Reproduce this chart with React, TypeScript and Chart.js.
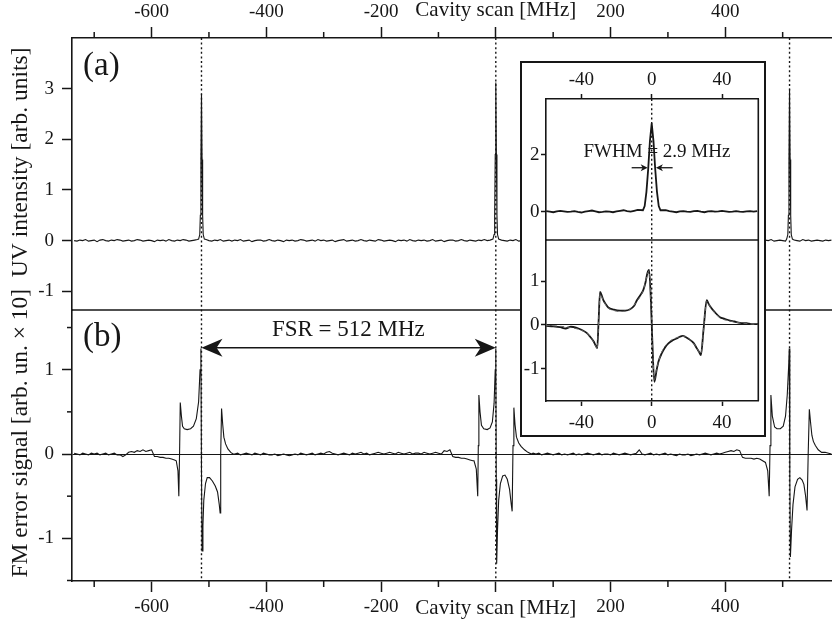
import React, { useEffect, useRef } from 'react';
import { Chart, registerables } from 'chart.js';

Chart.register(...registerables);

const FONT = "'Liberation Serif', 'Times New Roman', serif";
const INK = '#161616';

// ---------- main x axis (cavity scan, MHz) ----------
const X_MIN = -738.7;
const X_MAX = 586;
const X_MAJOR = [-600, -400, -200, 0, 200, 400];
const X_MINOR = [-700, -500, -300, -100, 100, 300, 500];
const X_TITLE = 'Cavity scan [MHz]';
const RESONANCES = [-513, 0, 512];

// ---------- panel (a): UV intensity ----------
const UV_MIN = -1.37;
const UV_MAX = 4.0;
const UV_TICKS = [-1, 0, 1, 2, 3];

// ---------- panel (b): FM error signal ----------
const FM_MIN = -1.506;
const FM_MAX = 1.708;
const FM_TICKS = [-1, 0, 1];
const FM_MINOR = [-1.5, -0.5, 0.5, 1.5];

// sampled scan grid for the baselines (null = see resonance detail points)
const SCAN_START = -735;
const SCAN_STEP = 5;

const UV_BASE: (number | null)[] = [
  0.00, -0.01, 0.01, 0.00, 0.02, -0.01, 0.00, 0.01, -0.02, 0.01, 0.02, 0.00, -0.01, 0.01, 0.00, 0.02, 0.01, -0.01, 0.00, 0.01,
  -0.01, 0.00, 0.02, 0.01, -0.01, 0.00, 0.01, 0.00, -0.02, 0.01, 0.00, 0.01, -0.01, 0.02, 0.00, -0.01, 0.01, 0.00, 0.02, 0.01,
  -0.01, 0.00, 0.01, 0.02, null, null, 0.02, 0.00, -0.01, 0.01, 0.00, 0.02, -0.01, 0.00, 0.01, -0.01, 0.01, 0.00, 0.02, -0.01,
  0.00, 0.01, -0.02, 0.00, 0.01, 0.01, -0.01, 0.00, 0.02, 0.00, -0.01, 0.01, 0.00, -0.02, 0.01, 0.00, 0.01, -0.01, 0.00, 0.02,
  0.01, -0.01, 0.00, 0.01, -0.01, 0.02, 0.00, 0.01, -0.01, 0.00, 0.01, -0.02, 0.00, 0.01, 0.02, -0.01, 0.00, 0.01, -0.01, 0.00,
  0.02, 0.00, -0.01, 0.01, 0.00, -0.01, 0.02, 0.01, -0.01, 0.00, 0.01, 0.00, -0.02, 0.01, 0.00, 0.01, -0.01, 0.02, 0.00, -0.01,
  0.01, 0.00, 0.01, -0.01, 0.00, 0.02, -0.01, 0.00, 0.01, -0.02, 0.00, 0.01, 0.01, -0.01, 0.00, 0.02, 0.00, -0.01, 0.01, 0.00,
  -0.01, 0.01, 0.00, 0.02, 0.00, 0.01, null, null, null, 0.01, 0.00, -0.01, 0.01, 0.00, 0.02, -0.01, 0.00, 0.01, -0.01, 0.00,
  0.01, 0.02, -0.01, 0.00, 0.01, -0.01, 0.00, 0.01, 0.00, -0.02, 0.01, 0.00, 0.02, -0.01, 0.00, 0.01, 0.00, -0.01, 0.01, 0.02,
  0.00, -0.01, 0.01, 0.00, -0.01, 0.02, 0.00, 0.01, -0.01, 0.00, 0.01, -0.02, 0.00, 0.01, 0.00, 0.02, -0.01, 0.00, 0.01, -0.01,
  0.00, 0.01, 0.02, -0.01, 0.00, 0.01, -0.01, 0.00, 0.01, 0.00, -0.02, 0.01, 0.00, 0.01, -0.01, 0.02, 0.00, -0.01, 0.01, 0.00,
  0.01, -0.01, 0.00, 0.02, 0.00, -0.01, 0.01, 0.00, 0.01, -0.02, 0.00, 0.01, -0.01, 0.00, 0.02, 0.01, -0.01, 0.00, 0.01, 0.00,
  -0.01, 0.01, 0.00, 0.02, -0.01, 0.00, 0.01, 0.00, -0.01, null, null, 0.01, 0.00, -0.01, 0.02, 0.00, 0.01, -0.01, 0.00, 0.01,
  0.00, -0.01, 0.01, 0.00, 0.01,
];

const UV_PEAK_LEFT: [number, number][] = [
  [-518, 0.03], [-516, 0.12], [-515, 0.5], [-514, 1.6], [-513, 2.9], [-512, 1.6], [-511, 0.5], [-510, 0.12], [-508, 0.03],
];
const UV_PEAK_CENTER: [number, number][] = [
  [-5, 0.03], [-3, 0.12], [-2, 0.5], [-1, 1.7], [0, 3.12], [1, 1.7], [2, 0.5], [3, 0.12], [5, 0.03],
];
const UV_PEAK_RIGHT: [number, number][] = [
  [507, 0.03], [509, 0.12], [510, 0.5], [511, 1.6], [512, 3.0], [513, 1.6], [514, 0.5], [515, 0.12], [517, 0.03],
];

const FM_BASE: (number | null)[] = [
  0.01, 0.00, -0.01, 0.01, 0.00, -0.01, 0.01, 0.00, 0.01, -0.01, 0.00, 0.01, -0.01, 0.00, 0.01, -0.01, -0.01, -0.03, -0.01,
  0.02, 0.03, 0.02, 0.04, 0.03, 0.05, 0.03, 0.04, 0.05,
  -0.03, -0.03, -0.04, -0.04, -0.05, -0.05, -0.06, -0.07,
  null, null, null, null, null, null, null, null, null, null, null, null, null, null, null, null, null, null, null, null,
  0.00, 0.01, -0.01, 0.00, 0.01, 0.00, -0.01, 0.01, 0.00, -0.01,
  0.01, 0.00, -0.01, -0.01, 0.00, -0.02, -0.01, 0.00, -0.01, -0.02,
  -0.01, 0.00, -0.01, 0.01, 0.00, -0.01, 0.00, 0.01, -0.01, 0.00,
  0.01, 0.00, 0.02, 0.03, 0.01, 0.00, -0.01, 0.00, 0.01, 0.00,
  -0.01, 0.01, 0.00, 0.01, 0.02, 0.00, 0.01, -0.01, 0.00, 0.01,
  0.02, 0.01, 0.00, 0.01, 0.02, 0.01, 0.00, 0.02, 0.01, 0.00,
  0.01, 0.02, 0.00, 0.01, 0.01, 0.00, 0.02, 0.01, 0.00, 0.01,
  0.02, 0.01, 0.00,
  0.04, 0.03, 0.05, -0.03, -0.04, -0.04, -0.05, -0.05, -0.06, -0.07, -0.08,
  null, null, null, null, null, null, null, null, null, null, null, null, null, null, null, null, null, null, null, null,
  0.01, 0.00, 0.01, -0.01, 0.00, 0.01, 0.00, -0.01, 0.00, 0.01,
  -0.01, 0.00, -0.01, 0.00, 0.01, -0.01, 0.00, -0.01, 0.00, 0.01,
  0.00, -0.01, 0.00, 0.01, -0.01, 0.00, 0.00, -0.01, 0.01, 0.00,
  -0.01, 0.00, 0.01, 0.00, -0.01, 0.00, 0.01, 0.05, 0.00, -0.01,
  0.00, 0.01, -0.01, 0.00, -0.01, 0.00, 0.01, -0.01, 0.00, -0.01,
  -0.02, 0.00, -0.01, -0.01, 0.00, -0.02, -0.01, 0.00, -0.01, 0.00,
  0.01, 0.00, -0.01, 0.00, 0.01, 0.00, 0.01, 0.02,
  0.03, 0.04, 0.03, 0.05, 0.04, -0.04, -0.05, -0.05, -0.05, -0.06, -0.05, -0.06, -0.08,
  null, null, null, null, null, null, null, null, null, null, null, null, null, null, null, null, null, null, null, null, null, null,
  0.01, 0.00,
];

const FM_RES_LEFT: [number, number][] = [
  [-557, -0.08], [-554, -0.2], [-552.5, -0.5], [-551, 0.1], [-550, 0.61], [-548, 0.45], [-546, 0.33], [-543, 0.30],
  [-538, 0.29], [-532, 0.30], [-527, 0.33], [-522, 0.42], [-518, 0.62], [-515.5, 1.0], [-514, 1.25], [-513, -0.2],
  [-512, -1.15], [-510.5, -0.85], [-509, -0.55], [-506, -0.35], [-503, -0.28], [-499, -0.28], [-494, -0.32],
  [-489, -0.38], [-485, -0.45], [-482, -0.6], [-480.5, -0.7], [-479.5, 0.0], [-478, 0.54], [-476, 0.35], [-474, 0.2],
  [-471, 0.12], [-467, 0.06], [-462, 0.02], [-458, 0.0],
];
const FM_RES_CENTER: [number, number][] = [
  [-38, -0.08], [-34, -0.18], [-31.5, -0.5], [-30.5, 0.1], [-29.5, 0.70], [-27.5, 0.5], [-25, 0.34], [-21, 0.30],
  [-15, 0.29], [-10, 0.31], [-6, 0.38], [-3, 0.6], [-1, 1.0], [0, 1.25], [0.8, -0.3], [1.5, -1.30], [3, -0.9],
  [5, -0.55], [8, -0.35], [12, -0.26], [16, -0.25], [20, -0.3], [24, -0.42], [27, -0.6], [28.5, -0.68], [30, 0.1],
  [31.5, 0.55], [33.5, 0.35], [36, 0.2], [40, 0.13], [44, 0.09], [50, 0.05], [56, 0.02], [62, 0.0],
];
const FM_RES_RIGHT: [number, number][] = [
  [470, -0.1], [474, -0.2], [476.5, -0.5], [478, 0.1], [479.5, 0.70], [482, 0.45], [486, 0.32], [490, 0.30],
  [496, 0.30], [501, 0.33], [505, 0.45], [508, 0.7], [510.5, 1.05], [511.5, 1.25], [512.5, -0.3], [513.5, -1.22],
  [515.5, -0.9], [518, -0.6], [521.5, -0.39], [526, -0.3], [530, -0.28], [534, -0.31], [537, -0.36], [540, -0.5],
  [542.5, -0.67], [544.5, 0.0], [546.5, 0.53], [549, 0.35], [551, 0.22], [553.5, 0.15], [557, 0.1], [562, 0.05],
  [568, 0.02], [574, 0.02],
];

// annotations
const FSR_FROM = -513;
const FSR_TO = 0;
const FSR_Y = 1.26;
const FSR_LABEL = 'FSR = 512 MHz';
const FSR_LABEL_X = -257;
const FSR_LABEL_Y = 1.49;
const Y_TITLE = 'FM error signal [arb. un. \u00d7 10]  UV intensity [arb. units]';

// ---------- inset ----------
const INSET_X_MIN = -60.14;
const INSET_X_MAX = 60.65;
const INSET_X_TICKS = [-40, 0, 40];
const INSET_PEAK_MIN = -1.0;
const INSET_PEAK_MAX = 3.975;
const INSET_PEAK_TICKS = [0, 2];
const INSET_ERR_MIN = -1.741;
const INSET_ERR_MAX = 1.947;
const INSET_ERR_TICKS = [-1, 0, 1];

const INSET_SCAN_START = -60;
const INSET_SCAN_STEP = 2;
const INSET_PEAK_BASE: (number | null)[] = [
  0.02, 0.00, -0.02, 0.01, 0.03, 0.01, -0.01, 0.00, 0.02, -0.01,
  -0.03, 0.00, 0.02, 0.04, 0.01, -0.02, -0.01, 0.01, 0.00, -0.02,
  0.01, 0.03, 0.05, 0.02, 0.00, 0.03, 0.06, null, null, null,
  null, null, null, null, 0.05, 0.02, 0.00, -0.02, 0.01, 0.02,
  0.00, -0.01, 0.02, 0.03, 0.00, -0.02, 0.01, 0.02, 0.00, 0.01,
  0.03, 0.01, -0.01, 0.00, 0.02, 0.00, -0.01, 0.01, 0.02, 0.00,
  0.02,
];
const INSET_PEAK_POINTS: [number, number][] = [
  [-5, 0.05], [-4, 0.2], [-3, 0.7], [-2, 1.5], [-1, 2.5], [0, 3.12], [1, 2.5], [2, 1.5], [3, 0.7], [4, 0.2], [5, 0.05],
];
const INSET_ERR_DATA: [number, number][] = [
  [-60, -0.02], [-56, -0.03], [-52, -0.05], [-49, -0.08], [-46, -0.04], [-43, -0.06], [-40, -0.11], [-37, -0.18],
  [-35, -0.27], [-33, -0.38], [-32, -0.46], [-31, -0.53], [-30.2, 0.1], [-29.4, 0.76], [-28.3, 0.66], [-27.5, 0.57],
  [-26, 0.47], [-24.7, 0.40], [-21.5, 0.35], [-18, 0.33], [-15, 0.33], [-12.3, 0.36], [-10, 0.44], [-8.5, 0.56],
  [-6.5, 0.68], [-4.8, 0.80], [-3.5, 0.98], [-2.5, 1.18], [-1.5, 1.26], [-0.5, 0.6], [0.3, -0.3], [1.5, -1.30],
  [2.8, -1.03], [4, -0.82], [5.7, -0.65], [7.5, -0.52], [9.5, -0.42], [12, -0.35], [14.2, -0.31], [16, -0.27],
  [17.6, -0.25], [19.5, -0.28], [21.8, -0.34], [24, -0.42], [25.6, -0.53], [27, -0.62], [28, -0.69], [29.5, -0.1],
  [31.3, 0.57], [32.2, 0.50], [33.2, 0.43], [36, 0.29], [38.8, 0.18], [41.5, 0.14], [44.5, 0.10], [47, 0.08],
  [50.2, 0.05], [54, 0.04], [57, 0.02], [60.5, 0.02],
];
const INSET_ERR_FIT: [number, number][] = [
  [-60, -0.01], [-52, -0.03], [-46, -0.06], [-40, -0.12], [-36, -0.22], [-33.5, -0.36], [-32, -0.47], [-31, -0.55],
  [-30.2, 0.1], [-29.4, 0.72], [-27.5, 0.55], [-24.7, 0.39], [-21.5, 0.33], [-18, 0.31], [-15, 0.32], [-12.3, 0.36],
  [-8.5, 0.54], [-4.8, 0.79], [-2.5, 1.15], [-1.5, 1.24], [0.3, -0.3], [1.5, -1.25], [2.8, -1.0], [5.7, -0.62],
  [9.5, -0.4], [14.2, -0.29], [17.6, -0.26], [21.8, -0.33], [25.6, -0.52], [28, -0.66], [29.5, -0.1], [31.3, 0.55],
  [33.2, 0.42], [38.8, 0.17], [44.5, 0.09], [50.2, 0.05], [60.5, 0.01],
];
const FWHM_LABEL = 'FWHM = 2.9 MHz';
const FWHM_LABEL_X = 3.0;
const FWHM_LABEL_Y = 2.1;
const FWHM_Y = 1.55;
const FWHM_LEFT = [-11.4, -2.3];
const FWHM_RIGHT = [11.9, 2.4];

// ---------- helpers ----------
type Pt = { x: number; y: number };

function buildTrace(start: number, step: number, base: (number | null)[], details: [number, number][][]): Pt[] {
  const pts: Pt[] = [];
  base.forEach((v, i) => {
    if (v !== null) pts.push({ x: start + i * step, y: v });
  });
  details.forEach((list) => list.forEach(([x, y]) => pts.push({ x, y })));
  pts.sort((a, b) => a.x - b.x);
  return pts;
}

const pairs = (list: [number, number][]): Pt[] => list.map(([x, y]) => ({ x, y }));

const fixedTicks = (values: number[]) => (scale: any) => {
  scale.ticks = values.map((v) => ({ value: v }));
};

function line(ctx: CanvasRenderingContext2D, x1: number, y1: number, x2: number, y2: number) {
  ctx.beginPath();
  ctx.moveTo(x1, y1);
  ctx.lineTo(x2, y2);
  ctx.stroke();
}

function arrowHead(ctx: CanvasRenderingContext2D, tipX: number, tipY: number, dir: number, len: number, half: number) {
  ctx.beginPath();
  ctx.moveTo(tipX, tipY);
  ctx.lineTo(tipX - dir * len, tipY - half);
  ctx.lineTo(tipX - dir * len * 0.72, tipY);
  ctx.lineTo(tipX - dir * len, tipY + half);
  ctx.closePath();
  ctx.fill();
}

const axisGrid = (len: number) => ({
  drawOnChartArea: false,
  drawTicks: true,
  tickLength: len,
  tickWidth: 1.5,
  tickColor: INK,
  color: INK,
});
const axisBorder = { display: true, color: INK, width: 1.6 };

// ---------- main chart ----------
function mainConfig(): any {
  const uvPts = buildTrace(SCAN_START, SCAN_STEP, UV_BASE, [UV_PEAK_LEFT, UV_PEAK_CENTER, UV_PEAK_RIGHT]);
  const fmPts = buildTrace(SCAN_START, SCAN_STEP, FM_BASE, [FM_RES_LEFT, FM_RES_CENTER, FM_RES_RIGHT]);

  const xTicks = (pad: number) => ({
    autoSkip: false,
    maxRotation: 0,
    minRotation: 0,
    padding: pad,
    color: INK,
    font: (c: any) => ({ family: FONT, size: c.tick && c.tick.value === 0 ? 21 : 19 }),
    callback: (v: any) => (v === 0 ? X_TITLE : String(v)),
  });
  const yTicks = { autoSkip: false, padding: 8, color: INK, font: { family: FONT, size: 19 } };

  const decor = {
    id: 'mainDecor',
    afterDraw(chart: any) {
      const ctx: CanvasRenderingContext2D = chart.ctx;
      const { x, x2, yA, yB } = chart.scales;
      const area = chart.chartArea;
      ctx.save();
      ctx.strokeStyle = INK;
      ctx.fillStyle = INK;
      // minor ticks
      ctx.lineWidth = 1.5;
      X_MINOR.forEach((v) => {
        const px = x.getPixelForValue(v);
        line(ctx, px, x.top, px, x.top + 6);
        line(ctx, px, x2.bottom, px, x2.bottom - 6);
      });
      FM_MINOR.forEach((v) => {
        const py = yB.getPixelForValue(v);
        line(ctx, yB.right, py, yB.right - 5, py);
      });
      // divider between panels
      ctx.lineWidth = 1.6;
      line(ctx, area.left, yB.top, area.right, yB.top);
      // dotted resonance markers
      ctx.lineWidth = 1.4;
      ctx.setLineDash([2, 2.6]);
      RESONANCES.forEach((v) => {
        const px = x.getPixelForValue(v);
        line(ctx, px, area.top, px, area.bottom);
      });
      ctx.setLineDash([]);
      // FSR arrow
      const ay = yB.getPixelForValue(FSR_Y);
      const ax1 = x.getPixelForValue(FSR_FROM);
      const ax2 = x.getPixelForValue(FSR_TO);
      ctx.lineWidth = 1.6;
      line(ctx, ax1 + 10, ay, ax2 - 10, ay);
      arrowHead(ctx, ax1, ay, -1, 21, 9);
      arrowHead(ctx, ax2, ay, 1, 21, 9);
      ctx.textAlign = 'center';
      ctx.textBaseline = 'alphabetic';
      ctx.font = `23px ${FONT}`;
      ctx.fillText(FSR_LABEL, x.getPixelForValue(FSR_LABEL_X), yB.getPixelForValue(FSR_LABEL_Y) + 7.5);
      // panel labels
      ctx.textAlign = 'left';
      ctx.font = `33px ${FONT}`;
      ctx.fillText('(a)', area.left + 11, yA.top + 37);
      ctx.fillText('(b)', area.left + 11, yB.top + 36);
      // y title
      ctx.translate(20.5, (area.top + area.bottom) / 2 + 3);
      ctx.rotate(-Math.PI / 2);
      ctx.textAlign = 'center';
      ctx.textBaseline = 'middle';
      ctx.font = `23.5px ${FONT}`;
      ctx.fillText(Y_TITLE, 0, 0);
      ctx.restore();
    },
  };

  return {
    type: 'line',
    data: {
      datasets: [
        { label: 'UV intensity', data: uvPts, xAxisID: 'x', yAxisID: 'yA', borderColor: INK, borderWidth: 1.1, pointRadius: 0, tension: 0 },
        { label: 'FM error signal', data: fmPts, xAxisID: 'x', yAxisID: 'yB', borderColor: INK, borderWidth: 1.1, pointRadius: 0, tension: 0 },
      ],
    },
    options: {
      animation: false,
      responsive: false,
      events: [],
      layout: { padding: 0 },
      plugins: { legend: { display: false }, tooltip: { enabled: false } },
      scales: {
        x: {
          type: 'linear', axis: 'x', position: 'bottom', min: X_MIN, max: X_MAX,
          afterBuildTicks: fixedTicks(X_MAJOR), afterFit: (s: any) => { s.height = 41; },
          grid: axisGrid(11), border: axisBorder, ticks: xTicks(3.6),
        },
        x2: {
          type: 'linear', axis: 'x', position: 'top', min: X_MIN, max: X_MAX,
          afterBuildTicks: fixedTicks(X_MAJOR), afterFit: (s: any) => { s.height = 38; },
          grid: axisGrid(11), border: axisBorder, ticks: xTicks(3.6),
        },
        yA: {
          type: 'linear', axis: 'y', position: 'left', stack: 'panels', stackWeight: 272, weight: 2,
          min: UV_MIN, max: UV_MAX,
          afterBuildTicks: fixedTicks(UV_TICKS), afterFit: (s: any) => { s.width = 72; },
          grid: axisGrid(10), border: axisBorder, ticks: yTicks,
        },
        yB: {
          type: 'linear', axis: 'y', position: 'left', stack: 'panels', stackWeight: 271, weight: 1,
          min: FM_MIN, max: FM_MAX,
          afterBuildTicks: fixedTicks(FM_TICKS), afterFit: (s: any) => { s.width = 72; },
          grid: {
            drawOnChartArea: true, drawTicks: true, tickLength: 10, tickWidth: 1.5, tickColor: INK, lineWidth: 1,
            color: (c: any) => (c.tick && c.tick.value === 0 ? INK : 'rgba(0,0,0,0)'),
          },
          border: axisBorder, ticks: yTicks,
        },
      },
    },
    plugins: [decor],
  };
}

// ---------- inset chart ----------
function insetConfig(): any {
  const peakPts = buildTrace(INSET_SCAN_START, INSET_SCAN_STEP, INSET_PEAK_BASE, [INSET_PEAK_POINTS]);
  const xTicks = (pad: number) => ({
    autoSkip: false, maxRotation: 0, minRotation: 0, padding: pad, color: INK, font: { family: FONT, size: 19 },
    callback: (v: any) => String(v),
  });
  const yTicks = { autoSkip: false, padding: 1.5, color: INK, font: { family: FONT, size: 19 } };

  const decor = {
    id: 'insetDecor',
    beforeDraw(chart: any) {
      const ctx: CanvasRenderingContext2D = chart.ctx;
      ctx.save();
      ctx.fillStyle = '#fff';
      ctx.fillRect(0, 0, chart.width, chart.height);
      ctx.restore();
    },
    afterDraw(chart: any) {
      const ctx: CanvasRenderingContext2D = chart.ctx;
      const { ix, iyA, iyB } = chart.scales;
      const area = chart.chartArea;
      ctx.save();
      ctx.strokeStyle = INK;
      ctx.fillStyle = INK;
      ctx.lineWidth = 1.6;
      line(ctx, area.right, area.top, area.right, area.bottom);
      line(ctx, area.left, iyB.top, area.right, iyB.top);
      // outer box
      ctx.lineWidth = 2;
      ctx.strokeRect(1, 1, chart.width - 2, chart.height - 2);
      // dotted zero line
      ctx.lineWidth = 1.4;
      ctx.setLineDash([2, 2.6]);
      const x0 = ix.getPixelForValue(0);
      line(ctx, x0, area.top, x0, area.bottom);
      ctx.setLineDash([]);
      // FWHM arrows
      const fy = iyA.getPixelForValue(FWHM_Y);
      ctx.lineWidth = 1.3;
      const l0 = ix.getPixelForValue(FWHM_LEFT[0]);
      const l1 = ix.getPixelForValue(FWHM_LEFT[1]);
      const r0 = ix.getPixelForValue(FWHM_RIGHT[0]);
      const r1 = ix.getPixelForValue(FWHM_RIGHT[1]);
      line(ctx, l0, fy, l1 - 4, fy);
      line(ctx, r0, fy, r1 + 4, fy);
      arrowHead(ctx, l1, fy, 1, 7, 3.5);
      arrowHead(ctx, r1, fy, -1, 7, 3.5);
      ctx.textAlign = 'center';
      ctx.textBaseline = 'middle';
      ctx.font = `19px ${FONT}`;
      ctx.fillText(FWHM_LABEL, ix.getPixelForValue(FWHM_LABEL_X), iyA.getPixelForValue(FWHM_LABEL_Y));
      ctx.restore();
    },
  };

  return {
    type: 'line',
    data: {
      datasets: [
        { label: 'UV peak', data: peakPts, xAxisID: 'ix', yAxisID: 'iyA', borderColor: INK, borderWidth: 1.8, pointRadius: 0, tension: 0 },
        { label: 'fit', data: pairs(INSET_ERR_FIT), xAxisID: 'ix', yAxisID: 'iyB', borderColor: '#666', borderWidth: 1, borderDash: [4, 3], pointRadius: 0, cubicInterpolationMode: 'monotone' },
        { label: 'error signal', data: pairs(INSET_ERR_DATA), xAxisID: 'ix', yAxisID: 'iyB', borderColor: INK, borderWidth: 1.8, pointRadius: 0, cubicInterpolationMode: 'monotone' },
      ],
    },
    options: {
      animation: false,
      responsive: false,
      events: [],
      layout: { padding: { left: 0, right: 7.7, top: 0, bottom: 0 } },
      plugins: { legend: { display: false }, tooltip: { enabled: false } },
      scales: {
        ix: {
          type: 'linear', axis: 'x', position: 'bottom', min: INSET_X_MIN, max: INSET_X_MAX,
          afterBuildTicks: fixedTicks(INSET_X_TICKS), afterFit: (s: any) => { s.height = 36; },
          grid: axisGrid(5), border: axisBorder, ticks: xTicks(5.6),
        },
        ix2: {
          type: 'linear', axis: 'x', position: 'top', min: INSET_X_MIN, max: INSET_X_MAX,
          afterBuildTicks: fixedTicks(INSET_X_TICKS), afterFit: (s: any) => { s.height = 38; },
          grid: axisGrid(5), border: axisBorder, ticks: xTicks(2.6),
        },
        iyA: {
          type: 'linear', axis: 'y', position: 'left', stack: 'inset', stackWeight: 141, weight: 2,
          min: INSET_PEAK_MIN, max: INSET_PEAK_MAX,
          afterBuildTicks: fixedTicks(INSET_PEAK_TICKS), afterFit: (s: any) => { s.width = 26; },
          grid: axisGrid(5), border: axisBorder, ticks: yTicks,
        },
        iyB: {
          type: 'linear', axis: 'y', position: 'left', stack: 'inset', stackWeight: 161, weight: 1,
          min: INSET_ERR_MIN, max: INSET_ERR_MAX,
          afterBuildTicks: fixedTicks(INSET_ERR_TICKS), afterFit: (s: any) => { s.width = 26; },
          grid: {
            drawOnChartArea: true, drawTicks: true, tickLength: 5, tickWidth: 1.5, tickColor: INK, lineWidth: 1,
            color: (c: any) => (c.tick && c.tick.value === 0 ? INK : 'rgba(0,0,0,0)'),
          },
          border: axisBorder, ticks: yTicks,
        },
      },
    },
    plugins: [decor],
  };
}

export default function App() {
  const mainRef = useRef<HTMLCanvasElement>(null);
  const insetRef = useRef<HTMLCanvasElement>(null);

  useEffect(() => {
    const main = new Chart(mainRef.current as HTMLCanvasElement, mainConfig());
    const inset = new Chart(insetRef.current as HTMLCanvasElement, insetConfig());
    return () => {
      main.destroy();
      inset.destroy();
    };
  }, []);

  return (
    <div style={{ position: 'absolute', left: 0, top: 0, width: 832, height: 622, background: '#fff', overflow: 'hidden' }}>
      <canvas ref={mainRef} width={832} height={622} style={{ position: 'absolute', left: 0, top: 0, width: 832, height: 622 }} />
      <canvas ref={insetRef} width={246} height={376} style={{ position: 'absolute', left: 520, top: 61, width: 246, height: 376 }} />
    </div>
  );
}
